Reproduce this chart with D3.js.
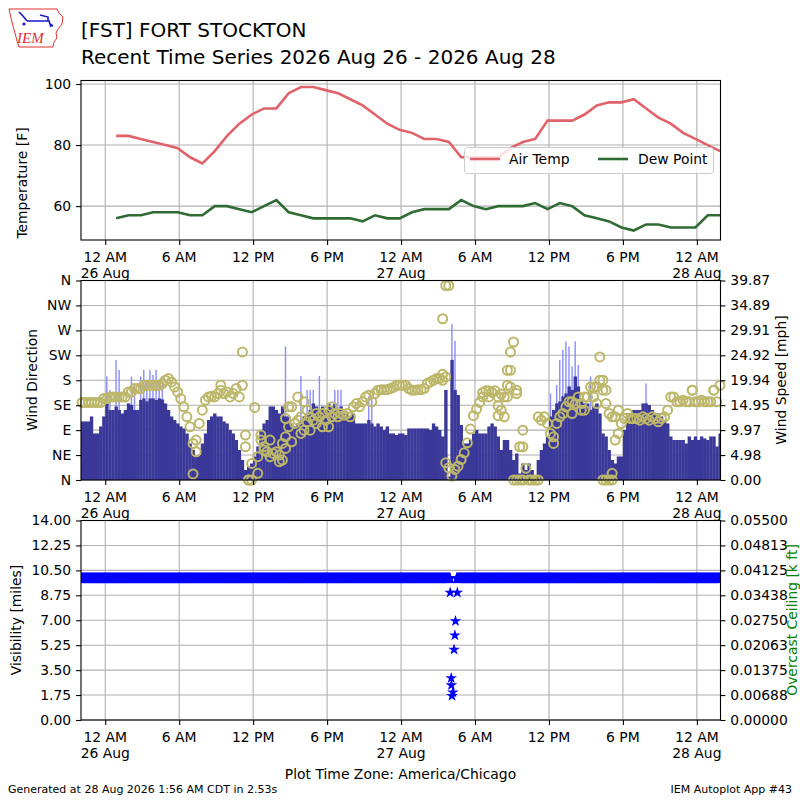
<!DOCTYPE html>
<html>
<head>
<meta charset="utf-8">
<script src="https://cdn.jsdelivr.net/npm/d3@7"></script>
<style>
body{margin:0;background:#fff}
text{font-family:"DejaVu Sans",sans-serif;fill:#000}
</style>
</head>
<body>
<div id="chart"></div>
<script>
var station = '[FST] FORT STOCKTON'
var subtitle = 'Recent Time Series 2026 Aug 26 - 2026 Aug 28'

// hourly obs, first one at 26 Aug 00:53, one per hour
var tempStart = '2026-08-26T00:53'
var airTemp = [83,83,82,81,80,79,76,74,78,83,87,90,92,92,97,99,99,98,97,95,93,90,87,85,84,
               82,82,81,76,76,76,76,79,81,82,88,88,88,90,93,94,94,95,92,89,87,84,82,80,78]
var dewPoint = [56,57,57,58,58,58,57,57,60,60,59,58,60,62,58,57,56,56,56,56,55,57,56,56,58,
                59,59,59,62,60,59,60,60,60,61,59,61,60,57,56,55,53,52,54,54,53,53,53,57,57]

// wind + visibility in 15 minute bins starting 25 Aug 22:00
var binStart = '2026-08-25T22:00'
var binMinutes = 15
var windSpeed = [
 11.7,11.7,11.7,12.7,9.3,9.3,10.7,12.7,15.3,14,
 14,14.7,14,13.3,14,15.3,15,14,14,16,
 16.3,15.7,16.3,16.3,16,16.3,16.1,15.3,14,12.7,
 12,11.3,10.7,10.3,9.3,7.3,6,4.7,5,7.3,
 9.3,12,12.7,13.3,12.7,12.7,11.7,11.3,10,9.3,
 8,6,4,2,2.7,3.3,4.7,6.7,10,11.3,
 12,14.7,14.7,14,13.3,14.7,12.7,12.7,11.3,10.7,
 11.3,12,12.7,13.3,14,15.3,14.7,14,14.7,14,
 15.3,14.7,15.3,14,14.7,13.3,13.3,12.7,13.3,11.3,
 11.3,11.3,11.3,12,11.3,10.7,11.3,10.7,10,10.7,
 9.3,9.3,9,9.3,9.3,9,10.3,10.3,10.3,10.3,
 10.3,10.3,10.3,10,11.3,10.7,10,8.7,18,0.7,
 24,18,17,11,7.3,7.3,8,9.3,10,9.3,
 9.3,9.3,10.7,11.3,10.7,8.7,6,8,8,6,
 4,5.3,1.3,3.3,2,3.3,2,0.7,4,6,
 7.3,8.7,12.7,14,15.3,15.7,16.7,17.3,18.7,18,
 20.7,18.7,16,15.3,15.3,14,14.7,15.3,13.3,9.3,
 8.7,6,4,3.3,4.7,4.7,10,13.3,13.3,14,
 14,14,15.3,15.3,15,14,13.3,13.3,12.7,12,
 11.3,8.7,8,8,8,8,7.3,8.7,8,8.7,
 8,8.7,8.3,8,8.7,8.7,6.7,9.3]
var windDir = [
 140,140,140,140,140,140,140,147,147,150,
 150,150,150,150,150,159,159,165,165,165,
 171,171,171,171,171,171,174,180,183,177,
 168,159,147,132,114,96,66,72,102,126,
 144,150,151,150,156,162,156,159,150,156,
 165,150,171,60,0,30,131,42,72,60,
 51,42,48,51,33,66,78,96,132,102,
 108,84,90,126,114,108,120,114,120,108,
 96,132,120,114,120,117,120,114,132,138,
 132,141,150,153,141,156,162,163,163,163,
 165,167,171,171,171,171,165,162,162,163,
 163,165,174,177,180,183,183,180,186,351,
 7,19,25,37,49,67,92,116,128,140,
 150,161,161,158,161,150,155,114,150,168,
 249,156,60,90,21,0,0,0,114,108,
 114,102,84,66,102,114,120,132,141,141,
 138,150,138,150,150,168,168,168,180,162,
 162,120,114,114,126,102,111,120,111,111,
 111,108,114,111,108,114,111,105,111,114,
 126,150,150,141,141,144,141,141,162,141,
 141,144,141,141,141,162,141,171]
// extra direction readings inside a bin (scatter)
var dirExtraBin = [36,37,45,52,53,54,55,57,58,59,61,64,65,66,66,67,68,70,71,72,73,74,76,78,80,81,117,117,118,118,
                   119,130,132,135,135,136,137,138,138,139,139,140,141,141,142,143,143,148,153,159,162,163,166,167,168,169,169,170,170,171,
                   172,172,173,174,198,205]
var dirExtraDeg = [11,51,171,231,81,0,0,12,81,54,72,45,36,57,111,132,69,150,114,141,105,90,102,96,126,114,291,191,351,31,
                   22,158,150,134,116,126,150,171,198,198,231,0,0,162,0,60,0,0,78,120,126,126,150,138,222,180,0,138,0,0,
                   0,12,72,84,162,162]
var gustBin = [8,9,11,12,16,17,19,20,21,22,23,24,25,26,66,71,73,74,75,77,82,83,84,93,94,120,121,152,154,155,156,157,158,159,160,161,165,183]
var gustMph = [20.7,18,24,22,20.7,19,20.7,22,20,22,21,22,20,19,26.7,20.8,18,18,18,20.8,18,18,18,16.7,16.7,31.2,27.8,17.3,19,24,26,27.7,26.7,22.7,27.7,23,20.7,19.3]
var visibility = [
 10,10,10,10,10,10,10,10,10,10, 10,10,10,10,10,10,10,10,10,10,
 10,10,10,10,10,10,10,10,10,10, 10,10,10,10,10,10,10,10,10,10,
 10,10,10,10,10,10,10,10,10,10, 10,10,10,10,10,10,10,10,10,10,
 10,10,10,10,10,10,10,10,10,10, 10,10,10,10,10,10,10,10,10,10,
 10,10,10,10,10,10,10,10,10,10, 10,10,10,10,10,10,10,10,10,10,
 10,10,10,10,10,10,10,10,10,10, 10,10,10,10,10,10,10,10,10,10,
 null,null,10,10,10,10,10,10,10,10, 10,10,10,10,10,10,10,10,10,10,
 10,10,10,10,10,10,10,10,10,10, 10,10,10,10,10,10,10,10,10,10,
 10,10,10,10,10,10,10,10,10,10, 10,10,10,10,10,10,10,10,10,10,
 10,10,10,10,10,10,10,10,10,10, 10,10,10,10,10,10,10,10,10,10,
 10,10,10,10,10,10,10,10]
var visDropTime = ['2026-08-27T03:59','2026-08-27T04:04','2026-08-27T04:05','2026-08-27T04:08','2026-08-27T04:12',
                   '2026-08-27T04:18','2026-08-27T04:22','2026-08-27T04:25','2026-08-27T04:34']
var visDropMiles = [9,3,2.5,1.75,2,5,6,7,9]

var dirLabels = ['N','NE','E','SE','S','SW','W','NW','N']
var speedTicks = [0,4.98,9.97,14.95,19.94,24.92,29.91,34.89,39.87]
var visTicks = [0,1.75,3.5,5.25,7,8.75,10.5,12.25,14]
var ceilTicks = ['0.00000','0.00688','0.01375','0.02063','0.02750','0.03438','0.04125','0.04813','0.05500']
var tempTicks = [60,80,100]

var tempColor = '#e0636b'
var dewColor = '#2f6b32'
var speedColor = '#3a3898'
var gustColor = '#8a8cff'
var dirColor = '#bdb76b'
var gridColor = '#b0b0b0'

var W = 800, H = 800
var left = 81, right = 720.5
var pTop = [80.5, 240], pMid = [280.5, 480], pBot = [520.5, 720]

var svg = d3.select('#chart').append('svg').attr('width', W).attr('height', H)

function t(s){ return new Date(s + 'Z') }
var binT0 = t(binStart)
function binTime(i){ return new Date(binT0.getTime() + i * binMinutes * 60000) }

var x = d3.scaleUtc()
  .domain([t('2026-08-25T22:02'), t('2026-08-28T01:55')])
  .range([left, right])
var xt = d3.utcHour.every(6).range(t('2026-08-26T00:00'), t('2026-08-28T00:01'))

var yTemp = d3.scaleLinear().domain([48.9, 101.15]).range([pTop[1], pTop[0]])
var yDir = d3.scaleLinear().domain([0, 360]).range([pMid[1], pMid[0]])
var ySpd = d3.scaleLinear().domain([0, 39.87]).range([pMid[1], pMid[0]])
var yVis = d3.scaleLinear().domain([0, 14]).range([pBot[1], pBot[0]])
var yCeil = d3.scaleLinear().domain([0, 0.055]).range([pBot[1], pBot[0]])

// clip paths
;[pTop, pMid, pBot].forEach(function(p, k){
  svg.append('clipPath').attr('id', 'clip' + k)
    .append('rect').attr('x', left).attr('y', p[0]).attr('width', right - left).attr('height', p[1] - p[0])
})

function grid(p, yscale, yvals){
  var g = svg.append('g')
  g.selectAll('.vx').data(xt).enter().append('line')
    .attr('x1', function(d){return x(d)}).attr('x2', function(d){return x(d)})
    .attr('y1', p[0]).attr('y2', p[1])
    .style('stroke', gridColor).style('stroke-width', 1.1)
  g.selectAll('.hy').data(yvals).enter().append('line')
    .attr('x1', left).attr('x2', right)
    .attr('y1', function(d){return yscale(d)}).attr('y2', function(d){return yscale(d)})
    .style('stroke', gridColor).style('stroke-width', 1.1)
}

function hourLabel(d){
  var h = d.getUTCHours()
  return h == 0 ? '12 AM' : h == 6 ? '6 AM' : h == 12 ? '12 PM' : '6 PM'
}

function xAxis(y0){
  var g = svg.append('g').attr('transform', 'translate(0,' + y0 + ')')
  g.call(d3.axisBottom(x).tickValues(xt).tickSize(4.9).tickSizeOuter(0).tickFormat(''))
  g.select('.domain').remove()
  g.selectAll('.tick line').style('stroke', '#000').style('stroke-width', 1.1)
  var lab = g.selectAll('.lab').data(xt).enter().append('text')
    .attr('x', function(d){return x(d)}).attr('y', 22)
    .attr('text-anchor', 'middle').style('font-size', '13.9px')
  lab.append('tspan').text(hourLabel)
  lab.filter(function(d){return d.getUTCHours() == 0}).append('tspan')
    .attr('x', function(d){return x(d)}).attr('dy', 16)
    .text(function(d){return d3.utcFormat('%-d %b')(d)})
}

function yAxisLeft(scale, vals, fmt){
  var g = svg.append('g').attr('transform', 'translate(' + left + ',0)')
  g.call(d3.axisLeft(scale).tickValues(vals).tickSize(4.9).tickPadding(4.9).tickSizeOuter(0).tickFormat(fmt))
  g.select('.domain').remove()
  g.selectAll('.tick line').style('stroke', '#000').style('stroke-width', 1.1)
  g.selectAll('.tick text').style('font-size', '13.9px').style('font-family', 'DejaVu Sans')
}

function yAxisRight(scale, vals, fmt){
  var g = svg.append('g').attr('transform', 'translate(' + right + ',0)')
  g.call(d3.axisRight(scale).tickValues(vals).tickSize(4.9).tickPadding(4.9).tickSizeOuter(0).tickFormat(fmt))
  g.select('.domain').remove()
  g.selectAll('.tick line').style('stroke', '#000').style('stroke-width', 1.1)
  g.selectAll('.tick text').style('font-size', '13.9px').style('font-family', 'DejaVu Sans')
}

function frame(p){
  svg.append('rect').attr('x', left).attr('y', p[0]).attr('width', right - left).attr('height', p[1] - p[0])
    .style('fill', 'none').style('stroke', '#000').style('stroke-width', 1.1)
}

function vLabel(txt, cx, cy, color){
  svg.append('text').text(txt)
    .attr('transform', 'translate(' + cx + ',' + cy + ') rotate(-90)')
    .attr('text-anchor', 'middle')
    .style('font-size', '13.9px')
    .style('fill', color || '#000')
}

// ---------- header ----------
var logo = svg.append('g')
logo.append('path')
  .attr('d', 'M9,9 L57,9 L59,13 L63,17 L62,24 L58,29 L56,33 L57,38 L54,42 L53,47 L19,47 L17,41 L15,33 L13,26 L11,18 Z')
  .style('fill', 'none').style('stroke', '#e03030').style('stroke-width', 1)
logo.append('path').attr('d', 'M19,12 L23,16 L27,21 M27,21 L50,21 M40,15 L48,17 L48,21 M49,21 L51,27 M50,24 L53,26')
  .style('fill', 'none').style('stroke', '#1a1acc').style('stroke-width', 1.6)
logo.append('circle').attr('cx', 24).attr('cy', 24).attr('r', 1.6).style('fill', '#1a1acc')
logo.append('text').text('IEM').attr('x', 17).attr('y', 43)
  .style('font-family', 'Liberation Serif, serif').style('font-style', 'italic')
  .style('font-size', '15px').style('fill', '#e03030')

svg.append('text').text(station).attr('x', 81).attr('y', 37).style('font-size', '20px')
svg.append('text').text(subtitle).attr('x', 81).attr('y', 63.5).style('font-size', '20px')

// ---------- top panel: temperature ----------
grid(pTop, yTemp, tempTicks)
var tg = svg.append('g').attr('clip-path', 'url(#clip0)')
var tempT0 = t(tempStart)
function hourTime(i){ return new Date(tempT0.getTime() + i * 3600000) }
var line = d3.line().x(function(d, i){return x(hourTime(i))})
tg.append('path').datum(airTemp)
  .attr('d', line.y(function(d){return yTemp(d)}))
  .style('fill', 'none').style('stroke', tempColor).style('stroke-width', 2.6)
tg.append('path').datum(dewPoint)
  .attr('d', line.y(function(d){return yTemp(d)}))
  .style('fill', 'none').style('stroke', dewColor).style('stroke-width', 2.6)

// legend
var lg = svg.append('g')
lg.append('rect').attr('x', 464.5).attr('y', 147.5).attr('width', 249).attr('height', 26).attr('rx', 3)
  .style('fill', '#fff').style('fill-opacity', 0.8).style('stroke', '#cccccc').style('stroke-width', 1)
lg.append('line').attr('x1', 470).attr('x2', 500).attr('y1', 159).attr('y2', 159)
  .style('stroke', tempColor).style('stroke-width', 2.6)
lg.append('text').text('Air Temp').attr('x', 509).attr('y', 164).style('font-size', '13.9px')
lg.append('line').attr('x1', 598).attr('x2', 628).attr('y1', 159).attr('y2', 159)
  .style('stroke', dewColor).style('stroke-width', 2.6)
lg.append('text').text('Dew Point').attr('x', 638).attr('y', 164).style('font-size', '13.9px')

frame(pTop)
xAxis(pTop[1])
yAxisLeft(yTemp, tempTicks, d3.format('d'))
vLabel('Temperature [F]', 27, 183)

// ---------- middle panel: wind ----------
grid(pMid, yDir, d3.range(0, 361, 45))
var wg = svg.append('g').attr('clip-path', 'url(#clip1)')
wg.selectAll('.gust').data(gustBin).enter().append('rect')
  .attr('x', function(d){return (x(binTime(d)) + x(binTime(d + 1))) / 2 - 0.7})
  .attr('width', 1.4)
  .attr('y', function(d, i){return ySpd(gustMph[i])})
  .attr('height', function(d, i){return ySpd(0) - ySpd(gustMph[i])})
  .style('fill', gustColor)
wg.selectAll('.spd').data(windSpeed).enter().append('rect')
  .attr('x', function(d, i){return x(binTime(i))})
  .attr('width', function(d, i){return x(binTime(i + 1)) - x(binTime(i)) + 0.3})
  .attr('y', function(d){return ySpd(d)})
  .attr('height', function(d){return ySpd(0) - ySpd(d)})
  .style('fill', speedColor)

function binMid(i){ return x(new Date(binTime(i).getTime() + binMinutes * 30000)) }
var dg = svg.append('g')
dg.selectAll('.dir').data(windDir).enter().append('circle')
  .attr('cx', function(d, i){return binMid(i)})
  .attr('cy', function(d){return yDir(d)})
  .attr('r', 4.5)
  .style('fill', 'none').style('stroke', dirColor).style('stroke-width', 2)
dg.selectAll('.dirx').data(dirExtraBin).enter().append('circle')
  .attr('cx', function(d){return binMid(d)})
  .attr('cy', function(d, i){return yDir(dirExtraDeg[i])})
  .attr('r', 4.5)
  .style('fill', 'none').style('stroke', dirColor).style('stroke-width', 2)

frame(pMid)
xAxis(pMid[1])
yAxisLeft(yDir, d3.range(0, 361, 45), function(d){return dirLabels[d / 45]})
yAxisRight(ySpd, speedTicks, d3.format('.2f'))
vLabel('Wind Direction', 37, 380)
vLabel('Wind Speed [mph]', 786, 380)

// ---------- bottom panel: visibility ----------
grid(pBot, yVis, visTicks)
var vg = svg.append('g').attr('clip-path', 'url(#clip2)')
var star = d3.symbol().type(d3.symbolStar).size(42)
// one marker per minute of each bin
var visPts = []
visibility.forEach(function(v, i){
  if (v == null) return
  for (var m = 0; m < binMinutes; m++) {
    visPts.push({ t: new Date(binTime(i).getTime() + m * 60000), v: v })
  }
})
visDropTime.forEach(function(s, i){ visPts.push({ t: t(s), v: visDropMiles[i] }) })
vg.selectAll('.vis').data(visPts).enter().append('path')
  .attr('d', star)
  .attr('transform', function(d){return 'translate(' + x(d.t) + ',' + (yVis(d.v) + 0.8) + ')'})
  .style('fill', '#0000ff')

frame(pBot)
xAxis(pBot[1])
yAxisLeft(yVis, visTicks, d3.format('.2f'))
yAxisRight(yCeil, ceilTicks.map(Number), function(d, i){return ceilTicks[i]})
vLabel('Visibility [miles]', 21, 620)
vLabel('Overcast Ceiling [k ft]', 796.5, 620, '#008000')

// ---------- footer ----------
svg.append('text').text('Plot Time Zone: America/Chicago').attr('x', 400.5).attr('y', 779)
  .attr('text-anchor', 'middle').style('font-size', '13.9px')
svg.append('text').text('Generated at 28 Aug 2026 1:56 AM CDT in 2.53s').attr('x', 8).attr('y', 793)
  .style('font-size', '11px')
svg.append('text').text('IEM Autoplot App #43').attr('x', 792).attr('y', 793)
  .attr('text-anchor', 'end').style('font-size', '11px')
</script>
</body>
</html>
